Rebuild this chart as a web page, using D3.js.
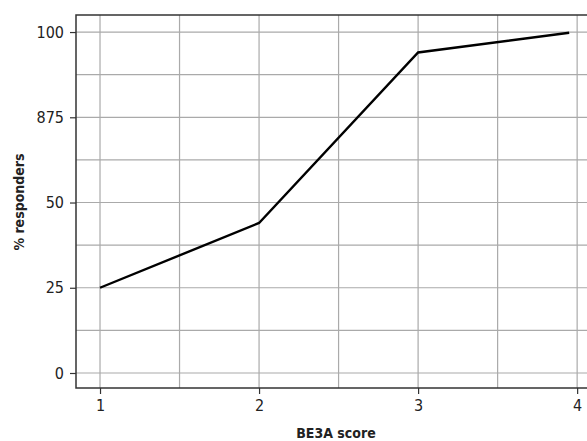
<!DOCTYPE html>
<html>
<head>
<meta charset="utf-8">
<script src="https://d3js.org/d3.v7.min.js"></script>
<style>
  body { margin: 0; background: #fff; }
  text { font-family: "DejaVu Sans Condensed", "Liberation Sans Narrow", sans-serif; }
</style>
</head>
<body>
<div id="chart"></div>
<script>
// data
var scores = [1, 2, 3, 3.95];
var responders = [25, 44, 94, 99.8];
var yTickValues = [0, 25, 50, 75, 100];
var yTickLabels = ["0", "25", "50", "875", "100"];
var xTickValues = [1, 2, 3, 4];
var yGrid = [0, 12.5, 25, 37.5, 50, 62.5, 75, 87.5, 100];
var xGrid = [1, 1.5, 2, 2.5, 3, 3.5, 4];

var dataset = scores.map(function (s, i) { return { x: s, y: responders[i] }; });

var dims = { width: 587, height: 441, margin: { top: 15, right: -14, bottom: 53, left: 76 } };
dims.bw = dims.width - dims.margin.left - dims.margin.right;
dims.bh = dims.height - dims.margin.top - dims.margin.bottom;

var svg = d3.select("#chart").append("svg")
  .attr("width", dims.width)
  .attr("height", dims.height);
var g = svg.append("g").attr("transform", `translate(${dims.margin.left},${dims.margin.top})`);

var xScale = d3.scaleLinear().domain([0.849, 4.15]).range([0, dims.bw]);
var yScale = d3.scaleLinear().domain([-4.4, 105]).range([dims.bh, 0]);

// grid
g.append("g").selectAll("line").data(yGrid).join("line")
  .attr("x1", 0).attr("x2", dims.bw)
  .attr("y1", d => yScale(d)).attr("y2", d => yScale(d))
  .attr("stroke", "#aaa").attr("stroke-width", 1.2);
g.append("g").selectAll("line").data(xGrid).join("line")
  .attr("y1", 0).attr("y2", dims.bh)
  .attr("x1", d => xScale(d)).attr("x2", d => xScale(d))
  .attr("stroke", "#aaa").attr("stroke-width", 1.2);

// frame
g.append("rect")
  .attr("width", dims.bw).attr("height", dims.bh)
  .attr("fill", "none").attr("stroke", "#333").attr("stroke-width", 1.5);

// line
var lineGen = d3.line().x(d => xScale(d.x)).y(d => yScale(d.y));
g.append("path")
  .attr("d", lineGen(dataset))
  .attr("fill", "none")
  .attr("stroke", "#000")
  .attr("stroke-width", 2.4);

// axes
var yAxis = g.append("g").call(
  d3.axisLeft(yScale).tickValues(yTickValues)
    .tickFormat((d, i) => yTickLabels[i]).tickSize(6).tickSizeOuter(0).tickPadding(6));
var xAxis = g.append("g").attr("transform", `translate(0,${dims.bh})`).call(
  d3.axisBottom(xScale).tickValues(xTickValues).tickFormat(d3.format("d"))
    .tickSize(6).tickSizeOuter(0).tickPadding(6));
[yAxis, xAxis].forEach(function (a) {
  a.select(".domain").remove();
  a.selectAll(".tick line").attr("stroke", "#333").attr("stroke-width", 1.2);
  a.selectAll(".tick text").attr("fill", "#222")
    .style("font-family", '"DejaVu Sans Condensed", "Liberation Sans Narrow", sans-serif')
    .style("font-size", "16px");
});

// titles
svg.append("text")
  .attr("x", 336).attr("y", 438)
  .attr("text-anchor", "middle")
  .attr("font-size", "14px").attr("font-weight", "bold").attr("fill", "#222")
  .text("BE3A score");
svg.append("text")
  .attr("transform", "translate(24,202) rotate(-90)")
  .attr("text-anchor", "middle")
  .attr("font-size", "14px").attr("font-weight", "bold").attr("fill", "#222")
  .text("% responders");
</script>
</body>
</html>
